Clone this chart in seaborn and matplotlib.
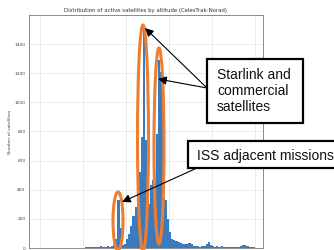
import numpy as np
import pandas as pd
import matplotlib
matplotlib.use("Agg")
import matplotlib.pyplot as plt
import seaborn as sns
from matplotlib.patches import Ellipse, Rectangle, FancyArrowPatch

# ---- data: histogram of active satellites by altitude (10 km bins) ----
bin_edges = list(range(0, 1010, 10))
counts = [
    0, 0, 0, 0, 0, 0, 0, 0, 0, 0,
    0, 0, 0, 0, 0, 1, 0, 1, 0, 2,
    3, 5, 8, 6, 9, 7, 10, 8, 12, 9,
    10, 12, 9, 14, 18, 60, 330, 140, 20, 25,
    60, 95, 150, 220, 280, 360, 520, 760, 1520, 740,
    300, 430, 470, 380, 780, 1290, 1210, 340, 330, 200,
    110, 60, 55, 45, 40, 35, 30, 28, 25, 35,
    25, 15, 12, 14, 10, 12, 15, 25, 40, 20,
    15, 10, 12, 8, 11, 9, 10, 8, 9, 8,
    10, 7, 9, 12, 18, 22, 12, 10, 8, 5,
]
y_ticks = [0, 200, 400, 600, 800, 1000, 1200, 1400]
x_ticks = [0, 200, 400, 600, 800, 1000]
title = "Distribution of active satellites by altitude (CelesTrak-Norad)"
ylabel = "Number of satellites"
starlink_label = "Starlink and\ncommercial\nsatellites"
iss_label = "ISS adjacent missions"

centers = [(a + b) / 2 for a, b in zip(bin_edges[:-1], bin_edges[1:])]
df = pd.DataFrame({"altitude": centers, "count": counts})

sns.set_style("whitegrid")
plt.rcParams["font.family"] = ["DejaVu Sans"]

W, H = 334, 250
fig = plt.figure(figsize=(W / 100, H / 100), dpi=100)
ax = fig.add_axes([29 / W, 2 / H, (263 - 29) / W, (248 - 15) / H])

sns.histplot(data=df, x="altitude", weights="count", bins=bin_edges, ax=ax,
             color="#3a7bbd", alpha=1, linewidth=0, edgecolor="none")

ax.set_xlim(-51, 1037)
ax.set_ylim(0, 1600)
ax.set_xticks(x_ticks)
ax.set_yticks(y_ticks)
ax.set_xticklabels([])
ax.tick_params(axis="y", labelsize=3.2, colors="#444444", length=1.5, width=0.4, pad=1)
ax.tick_params(axis="x", length=1.5, width=0.4, colors="#444444")
ax.set_xlabel("")
ax.set_ylabel(ylabel, fontsize=3.2, color="#444444", labelpad=2)
ax.set_title(title, fontsize=3.9, color="#333333", pad=2.5)
ax.grid(True, color="#e4e4e4", linewidth=0.5)
for s in ax.spines.values():
    s.set_color("#777777")
    s.set_linewidth(0.6)

# ---- overlay annotations (figure pixel coordinates, y from top) ----
tr = fig.dpi_scale_trans
def P(x, y):
    return (x / 100, (H - y) / 100)

orange = "#ED7D31"
for cx, cy, w, h in [(143, 138, 11, 226), (159, 146, 10, 196), (118, 221, 10, 58)]:
    e = Ellipse(P(cx, cy), w / 100, h / 100, transform=tr, fill=False,
                edgecolor=orange, linewidth=2.2, zorder=10)
    fig.add_artist(e)

arrow_kw = dict(arrowstyle="-|>,head_length=0.5,head_width=0.25", color="black",
                lw=0.8, shrinkA=0, shrinkB=0)
for (x0, y0), (x1, y1) in [((207, 88), (145, 28)), ((207, 88), (158, 79)),
                           ((197, 168), (122, 202))]:
    fig.add_artist(FancyArrowPatch(P(x0, y0), P(x1, y1), transform=tr, zorder=11,
                                   mutation_scale=10, **arrow_kw))

r1 = Rectangle(P(207, 123), 96 / 100, 64 / 100, transform=tr, facecolor="white",
               edgecolor="black", linewidth=1.6, zorder=12)
fig.add_artist(r1)
fig.text(217 / W, 1 - 91 / H, starlink_label, ha="left", va="center",
         fontsize=10, family=["Liberation Sans", "DejaVu Sans"], linespacing=1.22,
         color="#111111", zorder=13)

r2 = Rectangle(P(188, 168), 160 / 100, 27 / 100, transform=tr, facecolor="white",
               edgecolor="black", linewidth=1.6, zorder=12)
fig.add_artist(r2)
fig.text(197 / W, 1 - 156 / H, iss_label, ha="left", va="center",
         fontsize=10, family=["Liberation Sans", "DejaVu Sans"], color="#111111",
         zorder=13)

fig.savefig("out.png", dpi=100)
